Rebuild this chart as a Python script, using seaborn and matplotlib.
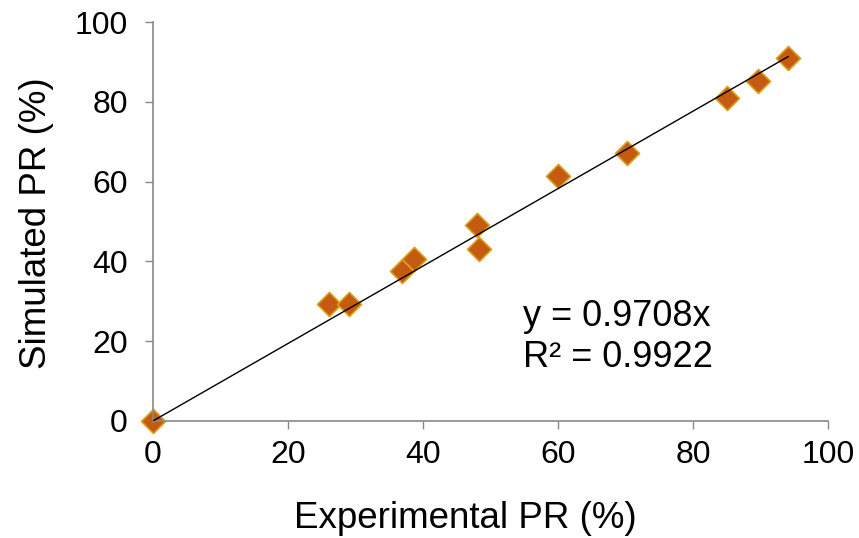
import numpy as np
import pandas as pd
import matplotlib
matplotlib.use("Agg")
import matplotlib.pyplot as plt
import seaborn as sns

experimental = [0, 26.1, 29.0, 36.9, 38.7, 48.0, 48.3, 60.0, 70.2, 85.0, 89.6, 94.1]
simulated = [0, 29.3, 29.3, 37.6, 40.6, 49.1, 43.1, 61.4, 67.2, 81.0, 85.2, 91.0]
slope = 0.9708
r2 = 0.9922
ticks = [0, 20, 40, 60, 80, 100]

sns.set_theme(style="white")
plt.rcParams["font.family"] = ["Liberation Sans", "DejaVu Sans"]
plt.rcParams["text.color"] = "black"
plt.rcParams["axes.labelcolor"] = "black"
plt.rcParams["xtick.color"] = "black"
plt.rcParams["ytick.color"] = "black"

df = pd.DataFrame({"Experimental PR (%)": experimental, "Simulated PR (%)": simulated})

fig = plt.figure(figsize=(8.59, 5.38), dpi=100)
ax = fig.add_axes([0.178, 0.2175, 0.786, 0.7415])

sns.scatterplot(data=df, x="Experimental PR (%)", y="Simulated PR (%)", ax=ax,
                marker="D", s=150, color="#C55A11", edgecolor="#D9A01B",
                linewidth=1.2, zorder=2)

xl = np.array([min(experimental), max(experimental)])
ax.plot(xl, slope * xl, color="black", lw=1.0, zorder=3)

ax.text(54.8, 26.1, f"y = {slope}x", fontsize=26, va="center", ha="left", color="black")
ax.text(54.8, 15.8, f"R² = {r2}", fontsize=26, va="center", ha="left", color="black")

ax.set_xlim(0, 100)
ax.set_ylim(0, 100)
ax.set_xticks(ticks)
ax.set_yticks(ticks)
ax.tick_params(axis="both", labelsize=23, direction="out", length=6, width=1,
               color="#898989", labelcolor="black", bottom=True, left=True)
ax.tick_params(axis="x", pad=8)
ax.tick_params(axis="y", pad=12)
for side in ["top", "right"]:
    ax.spines[side].set_visible(False)
for side in ["left", "bottom"]:
    ax.spines[side].set_color("#898989")
    ax.spines[side].set_linewidth(1.2)
ax.set_xlabel("Experimental PR (%)", fontsize=26.5, labelpad=22, color="black")
ax.set_ylabel("Simulated PR (%)", fontsize=26.5, labelpad=15, color="black")
ax.xaxis.label.set_x(0.462)
ax.yaxis.label.set_y(0.495)
ax.grid(False)
for c in ax.collections:
    c.set_clip_on(False)

fig.savefig("out.png", dpi=100)
